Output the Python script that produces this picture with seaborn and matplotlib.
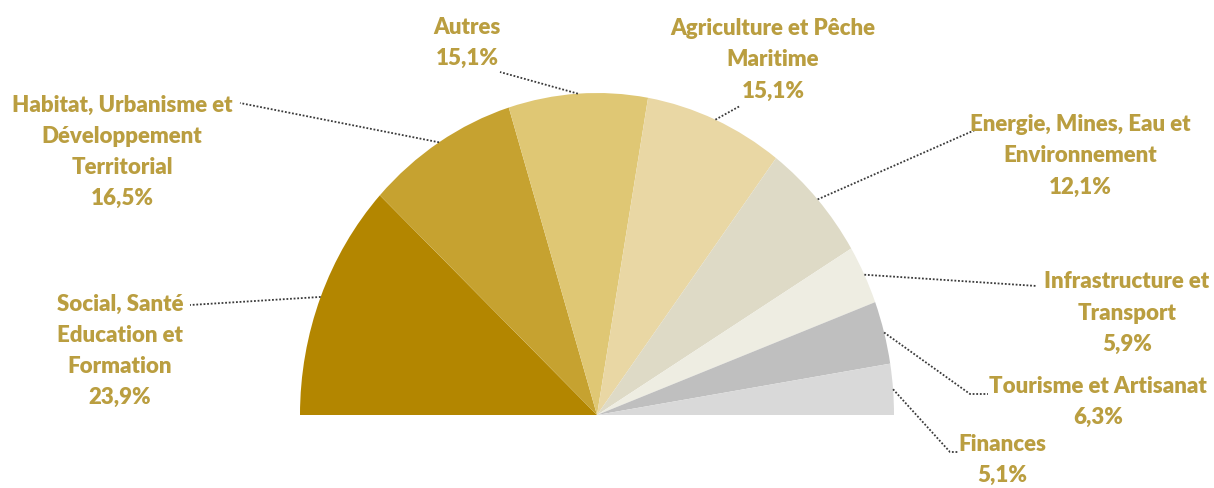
import numpy as np
import matplotlib
matplotlib.use("Agg")
import matplotlib.pyplot as plt
import seaborn as sns

# ---- data ----
categories = [
    "Social, Santé\nEducation et\nFormation",
    "Habitat, Urbanisme et\nDéveloppement\nTerritorial",
    "Autres",
    "Agriculture et Pêche\nMaritime",
    "Energie, Mines, Eau et\nEnvironnement",
    "Infrastructure et\nTransport",
    "Tourisme et Artisanat",
    "Finances",
]
values = [23.9, 16.5, 15.1, 15.1, 12.1, 5.9, 6.3, 5.1]
pct_labels = ["23,9%", "16,5%", "15,1%", "15,1%", "12,1%", "5,9%", "6,3%", "5,1%"]
colors = ["#B38600", "#C6A230", "#DFC774", "#E9D7A4",
          "#DEDAC6", "#EEEDE2", "#BFBFBF", "#D9D9D9"]

# ---- layout (pixel positions of label blocks and leader-line ends) ----
W, H = 1214, 488
CX, CY, RX, RY = 597, 415, 297, 322
label_centers = [(120, 351), (122, 152), (467, 43), (773, 60),
                 (1080, 156), (1127, 313), (1098, 402), (1002, 460)]
line_ends = [[(190, 305)], [(240, 103)], [(500, 72)], [(740, 106)],
             [(975, 130)], [(1037, 286)], [(970, 394), (988, 394)],
             [(950, 452), (958, 452)]]

def px(x, y):
    return (x - CX) / RX, (CY - y) / RY

sns.set_theme(style="white")
plt.rcParams["font.family"] = ["Lato", "DejaVu Sans"]

fig = plt.figure(figsize=(W / 100, H / 100), dpi=100)
ax = fig.add_axes([0, 0, 1, 1])

fracs = np.array(values) / 200.0
wedges, _ = ax.pie(fracs, startangle=180, counterclock=False, colors=colors,
                   normalize=False, wedgeprops=dict(linewidth=0))
ax.set_aspect("auto")
ax.set_xlim(-CX / RX, (W - CX) / RX)
ax.set_ylim((CY - H) / RY, CY / RY)
ax.axis("off")

text_color = "#BA9E40"
for w, cat, pct, (lx, ly), ends in zip(wedges, categories, pct_labels,
                                       label_centers, line_ends):
    mid = np.deg2rad((w.theta1 + w.theta2) / 2)
    xs = [np.cos(mid)]
    ys = [np.sin(mid)]
    for ex, ey in ends:
        dx, dy = px(ex, ey)
        xs.append(dx)
        ys.append(dy)
    ax.plot(xs, ys, linestyle=(0, (1, 1)), color="#3A3A3A", linewidth=1.3)
    tx, ty = px(lx, ly)
    ax.text(tx, ty, cat + "\n" + pct, ha="center", va="center",
            fontsize=16, fontweight="heavy", color=text_color,
            linespacing=1.6)

fig.savefig("out.png", dpi=100, facecolor="white")
